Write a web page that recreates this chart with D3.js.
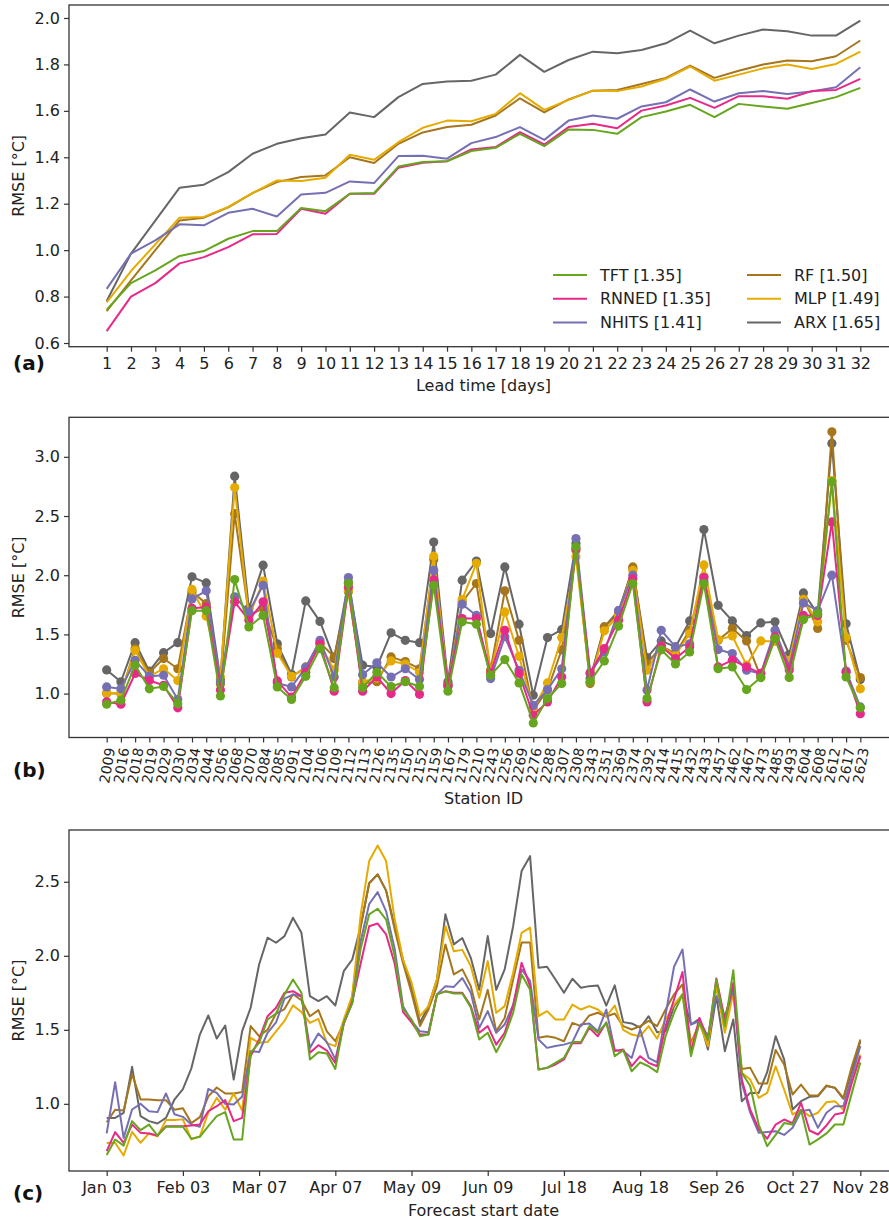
<!DOCTYPE html>
<html>
<head>
<meta charset="utf-8">
<script src="https://cdn.jsdelivr.net/npm/d3@7"></script>
<style>
body { margin: 0; background: #fff; }
svg { font-family: "DejaVu Sans", sans-serif; }
</style>
</head>
<body>
<svg id="chart" width="889" height="1219"></svg>
<script>
// ---- data ----
var models = ["TFT", "RNNED", "NHITS", "RF", "MLP", "ARX"]
var modelScores = ["1.35", "1.35", "1.41", "1.50", "1.49", "1.65"]
var modelColors = ["#66a61e", "#e7298a", "#7570b3", "#a6761d", "#e6ab02", "#666666"]
var drawOrder = ["ARX", "RF", "MLP", "NHITS", "RNNED", "TFT"]

// (a) RMSE per lead time
var leadDays = [1,2,3,4,5,6,7,8,9,10,11,12,13,14,15,16,17,18,19,20,21,22,23,24,25,26,27,28,29,30,31,32]
var leadTFT = [0.744,0.858,0.913,0.975,0.996,1.049,1.082,1.082,1.182,1.168,1.243,1.246,1.36,1.38,1.383,1.427,1.441,1.501,1.448,1.52,1.518,1.501,1.573,1.597,1.626,1.573,1.63,1.619,1.609,1.634,1.659,1.699]
var leadRNNED = [0.651,0.80,0.858,0.943,0.97,1.013,1.068,1.07,1.178,1.157,1.243,1.243,1.355,1.376,1.383,1.434,1.444,1.508,1.455,1.53,1.544,1.525,1.601,1.623,1.656,1.613,1.663,1.663,1.652,1.685,1.69,1.738]
var leadNHITS = [0.833,0.985,1.042,1.111,1.107,1.161,1.178,1.145,1.24,1.247,1.296,1.289,1.405,1.407,1.394,1.461,1.487,1.53,1.475,1.558,1.58,1.566,1.619,1.637,1.692,1.64,1.676,1.685,1.673,1.683,1.702,1.788]
var leadRF = [0.737,0.87,1.0,1.128,1.14,1.184,1.246,1.293,1.315,1.322,1.40,1.375,1.458,1.507,1.53,1.54,1.58,1.654,1.593,1.649,1.687,1.69,1.716,1.742,1.795,1.742,1.773,1.80,1.817,1.814,1.835,1.903]
var leadMLP = [0.775,0.91,1.025,1.14,1.143,1.186,1.246,1.30,1.298,1.312,1.411,1.389,1.465,1.527,1.558,1.555,1.587,1.676,1.604,1.647,1.687,1.685,1.705,1.738,1.791,1.73,1.756,1.783,1.80,1.78,1.802,1.855]
var leadARX = [0.781,0.985,1.127,1.269,1.282,1.336,1.415,1.458,1.482,1.498,1.593,1.573,1.659,1.716,1.726,1.73,1.756,1.841,1.768,1.819,1.855,1.848,1.862,1.891,1.946,1.891,1.924,1.95,1.943,1.924,1.924,1.989]

// (b) RMSE per station
var stations = ["2009","2016","2018","2019","2029","2030","2034","2044","2056","2068","2070","2084","2085","2091","2104","2106","2109","2112","2113","2126","2135","2150","2152","2159","2167","2179","2210","2243","2256","2269","2276","2288","2307","2308","2343","2351","2369","2374","2392","2414","2415","2432","2433","2457","2462","2467","2473","2485","2493","2604","2608","2612","2617","2623"]
var stTFT = [0.91,0.944,1.24,1.04,1.06,0.915,1.70,1.70,0.98,1.963,1.563,1.66,1.056,0.95,1.146,1.38,1.05,1.93,1.05,1.18,1.06,1.10,1.06,1.915,1.02,1.606,1.586,1.155,1.287,1.09,0.752,0.958,1.085,2.24,1.10,1.276,1.57,1.93,0.958,1.37,1.25,1.352,1.93,1.21,1.225,1.034,1.135,1.465,1.135,1.625,1.676,2.79,1.14,0.88]
var stRNNED = [0.93,0.91,1.17,1.11,1.07,0.88,1.72,1.73,1.03,1.775,1.62,1.775,1.107,0.97,1.18,1.42,1.02,1.90,1.02,1.14,1.0,1.11,0.994,1.96,1.07,1.634,1.634,1.175,1.535,1.17,0.817,0.93,1.14,2.225,1.175,1.38,1.62,1.97,0.93,1.40,1.296,1.394,1.98,1.225,1.282,1.225,1.17,1.48,1.20,1.66,1.66,2.45,1.18,0.83]
var stNHITS = [1.056,1.04,1.28,1.146,1.155,0.95,1.80,1.868,1.10,1.817,1.69,1.915,1.09,1.056,1.22,1.45,1.14,1.98,1.16,1.26,1.14,1.21,1.118,2.04,1.06,1.755,1.66,1.127,1.48,1.197,0.90,1.034,1.21,2.31,1.17,1.352,1.70,2.0,1.03,1.535,1.394,1.42,1.95,1.372,1.338,1.197,1.17,1.535,1.225,1.766,1.70,2.0,1.19,0.887]
var stRF = [1.0,1.0,1.38,1.175,1.296,1.21,1.86,1.76,1.08,2.52,1.66,1.72,1.38,1.14,1.225,1.43,1.31,1.86,1.085,1.10,1.31,1.27,1.21,2.13,1.08,1.775,1.93,1.20,1.868,1.45,0.86,1.03,1.37,2.21,1.085,1.563,1.676,2.07,1.25,1.40,1.34,1.535,1.986,1.45,1.55,1.445,1.14,1.47,1.25,1.80,1.55,3.211,1.45,1.135]
var stMLP = [1.006,1.0,1.366,1.146,1.21,1.11,1.88,1.654,1.14,2.74,1.648,1.95,1.34,1.146,1.21,1.42,1.20,1.87,1.10,1.13,1.276,1.25,1.18,2.16,1.06,1.794,2.10,1.18,1.69,1.315,0.873,1.09,1.473,2.155,1.10,1.53,1.66,2.04,1.197,1.40,1.324,1.507,2.087,1.456,1.487,1.24,1.445,1.44,1.28,1.794,1.606,2.80,1.473,1.04]
var stARX = [1.20,1.10,1.43,1.19,1.346,1.43,1.986,1.935,1.12,2.837,1.718,2.085,1.42,1.163,1.783,1.61,1.296,1.94,1.24,1.225,1.513,1.45,1.43,2.28,1.10,1.958,2.12,1.507,2.07,1.586,0.986,1.473,1.54,2.268,1.127,1.563,1.70,2.056,1.304,1.445,1.394,1.614,2.386,1.746,1.614,1.49,1.597,1.606,1.33,1.85,1.676,3.113,1.59,1.118]

// (c) RMSE per forecast start date (90 start dates, labelled ticks only)
var dateTickIdx = [0, 9, 18, 27, 36, 45, 54, 63, 72, 81, 89]
var dateTickLabels = ["Jan 03","Feb 03","Mar 07","Apr 07","May 09","Jun 09","Jul 18","Aug 18","Sep 26","Oct 27","Nov 28"]
var dtTFT = [0.655,0.759,0.718,0.883,0.822,0.86,0.786,0.845,0.845,0.845,
  0.764,0.777,0.85,0.917,0.944,0.759,0.759,1.345,1.412,1.57,
  1.61,1.739,1.84,1.75,1.30,1.349,1.34,1.236,1.547,1.68,
  2.05,2.28,2.318,2.245,2.0,1.64,1.57,1.457,1.468,1.739,
  1.76,1.745,1.745,1.65,1.435,1.48,1.349,1.457,1.615,1.874,
  1.77,1.232,1.243,1.277,1.31,1.417,1.417,1.525,1.48,1.547,
  1.322,1.363,1.22,1.28,1.254,1.214,1.457,1.615,1.739,1.322,
  1.547,1.435,1.84,1.525,1.903,1.21,1.12,0.86,0.714,0.79,
  0.87,0.86,0.96,0.725,0.76,0.80,0.86,0.86,1.074,1.28]
var dtRNNED = [0.68,0.809,0.736,0.86,0.804,0.80,0.786,0.849,0.849,0.849,
  0.854,0.86,0.95,0.984,1.025,0.883,0.905,1.322,1.435,1.592,
  1.649,1.75,1.761,1.727,1.345,1.396,1.36,1.277,1.54,1.69,
  1.95,2.2,2.218,2.144,1.95,1.62,1.55,1.468,1.468,1.739,
  1.76,1.75,1.75,1.66,1.48,1.525,1.40,1.48,1.66,1.953,
  1.795,1.232,1.243,1.266,1.30,1.41,1.41,1.513,1.457,1.55,
  1.356,1.367,1.254,1.322,1.277,1.254,1.525,1.705,1.89,1.345,
  1.58,1.435,1.847,1.57,1.818,1.164,0.96,0.83,0.764,0.86,
  0.894,0.87,1.007,0.82,0.793,0.854,0.928,0.94,1.142,1.322]
var dtNHITS = [0.80,1.146,0.77,0.962,1.0,0.95,0.944,1.07,0.93,0.912,
  0.86,0.845,1.10,1.074,1.0,0.995,1.05,1.356,1.35,1.48,
  1.55,1.71,1.738,1.727,1.378,1.475,1.417,1.30,1.547,1.68,
  2.1,2.35,2.43,2.30,2.05,1.66,1.56,1.49,1.484,1.739,
  1.795,1.79,1.85,1.75,1.513,1.626,1.48,1.536,1.67,1.908,
  1.83,1.435,1.378,1.39,1.40,1.417,1.536,1.543,1.49,1.637,
  1.363,1.356,1.31,1.502,1.31,1.28,1.60,1.926,2.043,1.536,
  1.559,1.457,1.727,1.59,1.77,1.142,0.94,0.804,0.81,0.815,
  0.79,0.838,0.95,0.96,0.838,0.94,0.984,0.984,1.187,1.39]
var dtRF = [0.876,0.96,0.955,1.2,1.03,1.03,1.025,1.025,0.96,0.97,
  0.87,0.91,1.05,1.11,1.07,1.07,1.08,1.525,1.457,1.5,
  1.61,1.64,1.74,1.70,1.592,1.633,1.49,1.423,1.547,1.727,
  2.2,2.49,2.55,2.44,2.18,1.95,1.75,1.525,1.637,1.795,
  2.077,1.874,1.908,1.795,1.57,1.77,1.49,1.58,1.84,2.09,
  2.09,1.446,1.457,1.446,1.423,1.547,1.525,1.597,1.615,1.59,
  1.61,1.525,1.502,1.525,1.56,1.525,1.637,1.739,1.806,1.41,
  1.547,1.41,1.795,1.547,1.77,1.236,1.243,1.137,1.137,1.363,
  1.266,1.063,1.13,1.056,1.056,1.124,1.108,1.04,1.254,1.435]
var dtMLP = [0.735,0.737,0.651,0.81,0.737,0.80,0.78,0.89,0.89,0.895,
  0.76,0.78,0.94,1.04,0.96,1.07,0.955,1.446,1.412,1.417,
  1.49,1.56,1.665,1.62,1.547,1.574,1.41,1.39,1.57,1.73,
  2.28,2.64,2.745,2.64,2.25,1.975,1.82,1.592,1.66,1.84,
  2.20,2.03,2.04,1.93,1.716,1.964,1.615,1.66,1.885,2.155,
  2.19,1.592,1.626,1.57,1.57,1.67,1.637,1.66,1.637,1.59,
  1.664,1.50,1.468,1.457,1.525,1.44,1.57,1.67,1.739,1.39,
  1.547,1.39,1.795,1.48,1.75,1.21,1.164,1.04,1.074,1.254,
  1.097,0.928,0.96,0.917,0.94,1.011,1.018,0.96,1.187,1.333]
var dtARX = [0.905,0.905,0.939,1.25,0.917,0.883,0.867,0.905,1.029,1.10,
  1.24,1.468,1.597,1.441,1.529,1.164,1.491,1.649,1.941,2.122,
  2.088,2.133,2.257,2.155,1.727,1.694,1.727,1.664,1.896,1.975,
  2.2,2.49,2.55,2.44,2.2,1.97,1.79,1.547,1.66,1.84,
  2.28,2.077,2.12,1.986,1.77,2.133,1.77,1.908,2.2,2.572,
  2.673,1.919,1.926,1.84,1.75,1.845,1.784,1.795,1.80,1.664,
  1.80,1.552,1.543,1.514,1.592,1.484,1.49,1.66,1.739,1.536,
  1.574,1.367,1.727,1.356,1.57,1.018,1.074,1.074,1.214,1.457,
  1.30,0.962,1.018,1.047,1.052,1.12,1.108,1.034,1.22,1.423]

// ---- drawing ----
var svg = d3.select("#chart")
var X0 = 69, X1 = 898
var txt = "#222", ink = "#333"
var colorOf = d3.scaleOrdinal().domain(models).range(modelColors)

function padExtent(vals)
{
	var e = d3.extent(vals), p = (e[1] - e[0]) * 0.05
	return [e[0] - p, e[1] + p]
}

function styleAxis(ax)
{
	ax.attr("font-family", "DejaVu Sans, sans-serif").attr("font-size", 16)
	ax.select(".domain").remove()
	ax.selectAll(".tick line").attr("stroke", ink).attr("stroke-width", 1.2)
	ax.selectAll(".tick text").attr("fill", txt)
}

function drawPanel(p)
{
	var g = svg.append("g")
	var allY = [].concat.apply([], drawOrder.map(function(m) { return p.series[m] }))
	var x = d3.scaleLinear().domain(padExtent(p.xs)).range([X0, X1])
	var y = d3.scaleLinear().domain(padExtent(allY)).range([p.bottom, p.top])

	var line = d3.line()
		.x(function(d, i) { return x(p.xs[i]) })
		.y(function(d) { return y(d) })

	drawOrder.forEach(function(m)
	{
		var vals = p.series[m]
		g.append("path")
			.attr("d", line(vals))
			.attr("fill", "none")
			.attr("stroke", colorOf(m))
			.attr("stroke-width", 2)
			.attr("stroke-linejoin", "round")
		if (p.markers)
		{
			g.selectAll(null).data(vals).enter()
				.append("circle")
				.attr("cx", function(d, i) { return x(p.xs[i]) })
				.attr("cy", function(d) { return y(d) })
				.attr("r", 4.6)
				.attr("fill", colorOf(m))
		}
	})

	// frame (right side falls outside the page, as in the figure)
	g.append("rect")
		.attr("x", X0).attr("y", p.top)
		.attr("width", X1 - X0).attr("height", p.bottom - p.top)
		.attr("fill", "none").attr("stroke", ink).attr("stroke-width", 1.3)

	var ay = g.append("g").attr("transform", "translate(" + X0 + ",0)")
		.call(d3.axisLeft(y).tickValues(p.yTicks).tickFormat(d3.format(".1f")).tickSize(5).tickPadding(4))
	styleAxis(ay)

	var ax = g.append("g").attr("transform", "translate(0," + p.bottom + ")")
		.call(d3.axisBottom(x).tickValues(p.xTicks).tickFormat(p.xFormat).tickSize(5).tickPadding(6))
	styleAxis(ax)
	if (p.rotateX)
	{
		ax.selectAll(".tick text")
			.attr("y", 0).attr("dy", "0.35em")
			.attr("font-size", 14)
			.attr("text-anchor", "middle")
			.attr("transform", "translate(0,28) rotate(-80)")
	}

	g.append("text")
		.attr("transform", "translate(18," + ((p.top + p.bottom) / 2) + ") rotate(-90)")
		.attr("dy", "0.35em").attr("text-anchor", "middle")
		.attr("font-size", 16).attr("fill", txt)
		.text("RMSE [°C]")

	g.append("text")
		.attr("x", (X0 + X1) / 2).attr("y", p.xTitleY)
		.attr("text-anchor", "middle").attr("font-size", 16).attr("fill", txt)
		.text(p.xTitle)

	g.append("text")
		.attr("x", 13).attr("y", p.tagY)
		.attr("font-size", 20).attr("font-weight", "bold").attr("fill", "#111")
		.text(p.tag)

	return g
}

var gA = drawPanel({
	top: 5, bottom: 346.7, xs: leadDays,
	series: { TFT: leadTFT, RNNED: leadRNNED, NHITS: leadNHITS, RF: leadRF, MLP: leadMLP, ARX: leadARX },
	yTicks: [0.6, 0.8, 1.0, 1.2, 1.4, 1.6, 1.8, 2.0],
	xTicks: leadDays, xFormat: function(d) { return d },
	xTitle: "Lead time [days]", xTitleY: 391, tag: "(a)", tagY: 370
})

var stIdx = stations.map(function(s, i) { return i })
drawPanel({
	top: 417.3, bottom: 737.5, xs: stIdx, markers: true,
	series: { TFT: stTFT, RNNED: stRNNED, NHITS: stNHITS, RF: stRF, MLP: stMLP, ARX: stARX },
	yTicks: [1.0, 1.5, 2.0, 2.5, 3.0],
	xTicks: stIdx, xFormat: function(i) { return stations[i] }, rotateX: true,
	xTitle: "Station ID", xTitleY: 804, tag: "(b)", tagY: 777
})

var dtIdx = dtTFT.map(function(v, i) { return i })
drawPanel({
	top: 830, bottom: 1171, xs: dtIdx,
	series: { TFT: dtTFT, RNNED: dtRNNED, NHITS: dtNHITS, RF: dtRF, MLP: dtMLP, ARX: dtARX },
	yTicks: [1.0, 1.5, 2.0, 2.5],
	xTicks: dateTickIdx, xFormat: function(i) { return dateTickLabels[dateTickIdx.indexOf(i)] },
	xTitle: "Forecast start date", xTitleY: 1216, tag: "(c)", tagY: 1200
})

// legend of panel (a), two columns
var legend = gA.append("g")
models.forEach(function(m, i)
{
	var col = Math.floor(i / 3), row = i % 3
	var lx = 553 + col * 194, ly = 275 + row * 23.8
	legend.append("line")
		.attr("x1", lx).attr("x2", lx + 34).attr("y1", ly).attr("y2", ly)
		.attr("stroke", colorOf(m)).attr("stroke-width", 2)
	legend.append("text")
		.attr("x", lx + 47).attr("y", ly).attr("dy", "0.35em")
		.attr("font-size", 16).attr("fill", txt)
		.text(m + " [" + modelScores[i] + "]")
})
</script>
</body>
</html>
